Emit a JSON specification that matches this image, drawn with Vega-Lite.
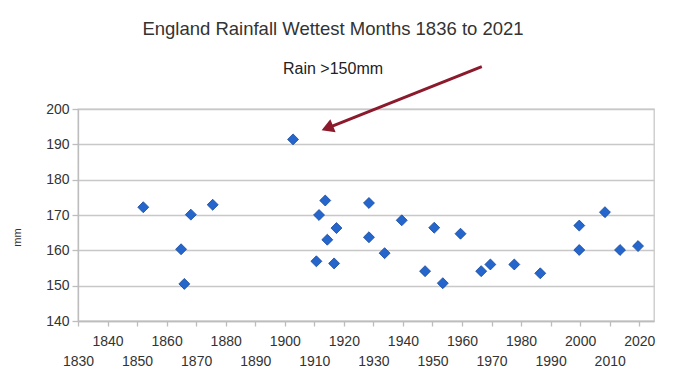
{
  "$schema": "https://vega.github.io/schema/vega-lite/v6.json",
  "width": 576,
  "height": 212,
  "autosize": {"type": "none"},
  "padding": {"left": 78, "top": 109, "right": 24, "bottom": 58},
  "background": "white",
  "title": {
    "text": "England Rainfall Wettest Months 1836 to 2021",
    "subtitle": "Rain >150mm",
    "font": "Liberation Sans",
    "fontSize": 18.5,
    "fontWeight": "normal",
    "color": "#333333",
    "subtitleFont": "Liberation Sans",
    "subtitleFontSize": 16,
    "subtitleColor": "#222222",
    "subtitlePadding": 23,
    "anchor": "middle",
    "frame": "group",
    "dx": -33,
    "offset": -12
  },
  "encoding": {
    "x": {
      "field": "year", "type": "quantitative",
      "scale": {"domain": [1830, 2025], "nice": false, "zero": false},
      "axis": {
        "title": null,
        "values": [1830, 1840, 1850, 1860, 1870, 1880, 1890, 1900, 1910, 1920, 1930, 1940, 1950, 1960, 1970, 1980, 1990, 2000, 2010, 2020],
        "format": "d",
        "grid": false,
        "domainColor": "#bdbdbd",
        "domainWidth": 1.3,
        "tickColor": "#bdbdbd",
        "tickWidth": 1.3,
        "tickSize": 5,
        "labelFont": "Liberation Sans",
        "labelFontSize": 14,
        "labelColor": "#333333",
        "labelOverlap": false,
        "labelFlush": false,
        "labelBaseline": "top",
        "labelPadding": {"condition": {"test": "datum.value % 20 == 10", "value": 28}, "value": 8.7}
      }
    },
    "y": {
      "field": "mm", "type": "quantitative",
      "scale": {"domain": [140, 200], "nice": false, "zero": false},
      "axis": {
        "title": "mm",
        "titleFont": "Liberation Sans",
        "titleFontSize": 11,
        "titleFontWeight": "normal",
        "titleColor": "#333333",
        "titleAngle": -90,
        "titleX": -57.5,
        "titleY": 128,
        "titleAlign": "center",
        "titleBaseline": "alphabetic",
        "values": [140, 150, 160, 170, 180, 190, 200],
        "grid": true,
        "gridColor": "#c8c8c8",
        "gridWidth": 1.3,
        "domainColor": "#bdbdbd",
        "domainWidth": 1.3,
        "tickColor": "#bdbdbd",
        "tickWidth": 1.3,
        "tickSize": 6,
        "labelFont": "Liberation Sans",
        "labelFontSize": 14,
        "labelColor": "#333333",
        "labelOverlap": false,
        "labelPadding": 3
      }
    }
  },
  "layer": [
    {
      "data": {
        "values": [
          {"year": 1852.1, "mm": 172.2},
          {"year": 1864.9, "mm": 160.3},
          {"year": 1866.0, "mm": 150.5},
          {"year": 1868.2, "mm": 170.1},
          {"year": 1875.6, "mm": 172.9},
          {"year": 1902.8, "mm": 191.4},
          {"year": 1910.7, "mm": 156.9},
          {"year": 1911.6, "mm": 170.0},
          {"year": 1913.7, "mm": 174.1},
          {"year": 1914.4, "mm": 163.0},
          {"year": 1916.7, "mm": 156.3},
          {"year": 1917.5, "mm": 166.3},
          {"year": 1928.5, "mm": 173.4},
          {"year": 1928.5, "mm": 163.7},
          {"year": 1933.8, "mm": 159.2},
          {"year": 1939.6, "mm": 168.5},
          {"year": 1947.5, "mm": 154.1},
          {"year": 1950.6, "mm": 166.4},
          {"year": 1953.5, "mm": 150.7},
          {"year": 1959.5, "mm": 164.7},
          {"year": 1966.5, "mm": 154.1},
          {"year": 1969.6, "mm": 156.0},
          {"year": 1977.7, "mm": 156.0},
          {"year": 1986.5, "mm": 153.5},
          {"year": 1999.7, "mm": 167.0},
          {"year": 1999.7, "mm": 160.1},
          {"year": 2008.4, "mm": 170.8},
          {"year": 2013.5, "mm": 160.1},
          {"year": 2019.6, "mm": 161.2}
        ]
      },
      "mark": {"type": "point", "shape": "diamond", "filled": true, "size": 120, "fill": "#2566cc", "stroke": "#17479a", "strokeWidth": 0.8, "opacity": 1}
    },
    {
      "data": {"values": [{"year": 1966.7, "mm": 212.0, "year2": 1914.4, "mm2": 194.6}]},
      "mark": {"type": "rule", "color": "#8b1a2c", "strokeWidth": 3, "clip": false},
      "encoding": {
        "x2": {"field": "year2"},
        "y2": {"field": "mm2"}
      }
    },
    {
      "data": {"values": [{"year": 1914.4, "mm": 194.6}]},
      "mark": {"type": "point", "shape": "triangle-up", "filled": true, "size": 200, "angle": 248, "fill": "#8b1a2c", "opacity": 1, "clip": false}
    }
  ],
  "config": {
    "view": {"stroke": "#c8c8c8", "strokeWidth": 1.3}
  }
}
